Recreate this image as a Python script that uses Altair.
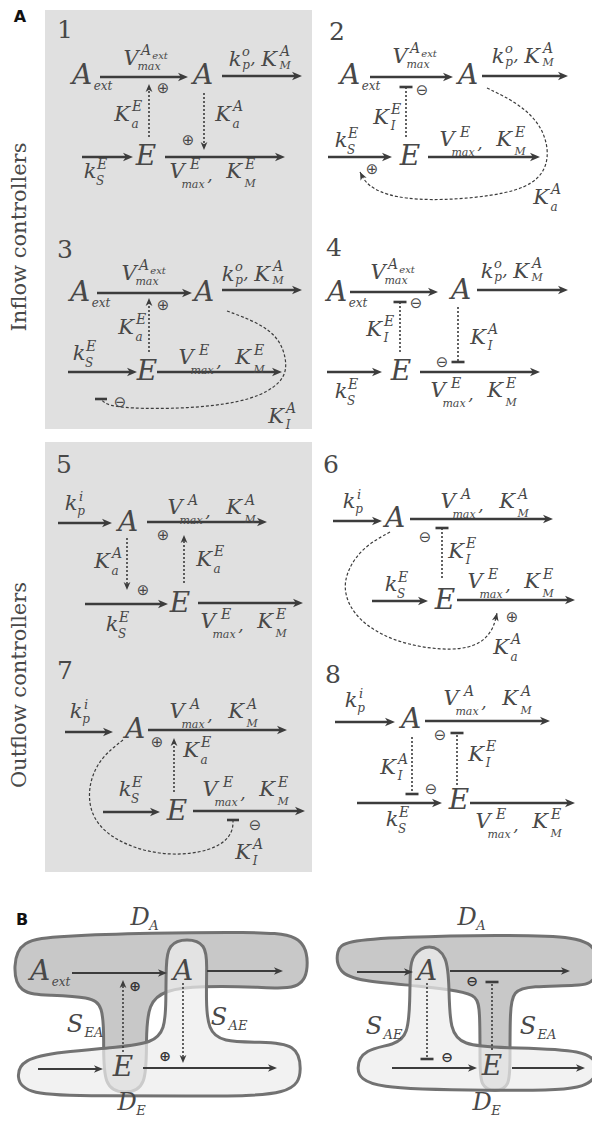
import math
import altair as alt
import pandas as pd

INK = "#3c3c3c"
TXT = "#484848"
SERIF = "DejaVu Serif"

# ---------------- panel backgrounds ----------------
BOX_X1 = [45, 45]
BOX_X2 = [312, 312]
BOX_Y1 = [10, 442]
BOX_Y2 = [429, 872]

# ---------------- solid reaction arrows (x1, y1, x2, y2) ----------------
SOLID_ARROWS = [
    (100, 77, 188, 77), (222, 76, 302, 76), (82, 157, 133, 157), (165, 157, 285, 157),      # 1
    (370, 77, 453, 77), (482, 76, 568, 76), (328, 157, 392, 157), (428, 157, 540, 157),     # 2
    (97, 293, 192, 293), (222, 290, 302, 290), (68, 372, 137, 372), (157, 372, 282, 372),   # 3
    (350, 292, 438, 292), (477, 290, 568, 290), (327, 372, 382, 372), (420, 372, 540, 372), # 4
    (58, 523, 112, 523), (147, 522, 267, 522), (85, 604, 168, 604), (198, 603, 303, 603),   # 5
    (333, 521, 382, 521), (410, 519, 553, 519), (372, 601, 428, 601), (457, 600, 575, 600), # 6
    (65, 732, 113, 732), (148, 730, 287, 730), (103, 812, 160, 812), (193, 811, 305, 811),  # 7
    (335, 722, 395, 722), (425, 721, 550, 721), (357, 803, 442, 803), (470, 803, 575, 803), # 8
]
B_ARROWS = [
    (72, 973, 167, 973), (207, 971, 283, 971), (38, 1069, 103, 1069), (143, 1068, 277, 1068),
    (357, 972, 413, 972), (450, 971, 570, 971), (392, 1068, 477, 1068), (512, 1068, 585, 1068),
]
# dashed activation arrows (head at end)
ACT_ARROWS = [
    (149, 137, 149, 84), (204, 93, 204, 150), (149, 352, 149, 298), (184, 583, 184, 535),
    (127, 538, 127, 590), (174, 792, 174, 738), (123, 1052, 123, 980), (183, 983, 183, 1063),
]
# dashed inhibition lines (bar at end)
INH_LINES = [
    (406, 137, 406, 87), (400, 352, 400, 302), (458, 307, 458, 362), (442, 578, 442, 528),
    (457, 785, 457, 733), (412, 737, 412, 794), (492, 1050, 492, 982), (427, 983, 427, 1059),
]
# dashed feedback curves
CURVE_P2 = [(487, 88), (520, 104), (543, 127), (550, 157), (540, 180), (510, 194),
            (443, 201), (393, 198), (367, 186), (360, 172)]
CURVE_P6 = [(390, 532), (363, 547), (347, 570), (343, 593), (357, 620), (393, 642),
            (443, 651), (477, 647), (493, 631), (497, 613)]
CURVE_P3 = [(227, 311), (257, 322), (280, 338), (288, 365), (282, 383), (253, 400),
            (200, 408), (140, 409), (107, 406), (101, 399)]
CURVE_P7 = [(123, 740), (100, 758), (88, 785), (90, 815), (110, 838), (150, 854),
            (193, 855), (223, 845), (233, 831), (233, 820)]
CURVES_ACT = {"c2": CURVE_P2, "c6": CURVE_P6}
CURVES_INH = {"c3": CURVE_P3, "c7": CURVE_P7}

# regulation signs
PLUS = [(163, 88), (188, 140), (372, 169), (163, 305), (163, 535), (143, 590), (512, 617), (157, 742)]
MINUS = [(422, 90), (120, 402), (416, 303), (442, 362), (425, 537), (255, 825), (440, 735), (431, 789)]
PLUS_B = [(135, 987), (165, 1057)]
MINUS_B = [(472, 982), (447, 1058)]

# panel numbers
NUM_TEXT = ["1", "2", "3", "4", "5", "6", "7", "8"]
NUM_X = [65, 337, 65, 334, 64, 331, 65, 333]
NUM_Y = [30, 32, 250, 248, 465, 465, 671, 675]

# side labels
SIDE_TEXT = ["Inflow controllers", "Outflow controllers"]
SIDE_X = [20, 20]
SIDE_Y = [237, 685]

# panel letters
LETTER_TEXT = ["A", "B"]
LETTER_X = [20, 22]
LETTER_Y = [17, 920]

# math terms (kind, x, y) -- x, y = centre of the main glyph
TERMS = [
    # 1
    ("Aext", 82, 76), ("VAext", 131, 59), ("A", 203, 76), ("kpoKMA", 235, 60), ("KaE", 122, 115),
    ("KaA", 223, 115), ("E", 146, 157), ("kSE", 90, 172), ("VEKME", 177, 172),
    # 2
    ("Aext", 350, 76), ("VAext", 400, 57), ("A", 468, 76), ("kpoKMA", 498, 57), ("KIE", 381, 118),
    ("kSE", 341, 141), ("E", 410, 157), ("VEKME", 447, 140), ("KaA", 541, 198),
    # 3
    ("Aext", 80, 293), ("VAext", 129, 274), ("A", 204, 293), ("kpoKMA", 228, 275), ("KaE", 126, 328),
    ("kSE", 79, 354), ("E", 147, 372), ("VEKME", 186, 358), ("KIA", 276, 417),
    # 4
    ("Aext", 337, 293), ("VAext", 378, 273), ("A", 461, 291), ("kpoKMA", 487, 272), ("KIE", 374, 330),
    ("KIA", 478, 338), ("E", 401, 372), ("kSE", 341, 392), ("VEKME", 438, 391),
    # 5
    ("kpi", 71, 504), ("A", 128, 523), ("VAKMA", 175, 508), ("KaE", 204, 560), ("KaA", 102, 562),
    ("E", 180, 604), ("kSE", 112, 625), ("VEKME", 208, 622),
    # 6
    ("kpi", 349, 502), ("A", 395, 519), ("VAKMA", 448, 502), ("KIE", 456, 552), ("kSE", 391, 585),
    ("E", 445, 601), ("VEKME", 475, 582), ("KaA", 501, 648),
    # 7
    ("kpi", 76, 712), ("A", 135, 730), ("VAKMA", 177, 712), ("KaE", 191, 751), ("kSE", 125, 790),
    ("E", 177, 812), ("VEKME", 210, 790), ("KIA", 243, 853),
    # 8
    ("kpi", 351, 701), ("A", 411, 720), ("VAKMA", 451, 699), ("KIE", 476, 755), ("KIA", 388, 768),
    ("E", 459, 801), ("kSE", 392, 820), ("VEKME", 483, 822),
    # B
    ("Aext", 40, 972), ("A", 183, 972), ("E", 123, 1068), ("SEA", 75, 1025), ("SAE", 219, 1018),
    ("DA", 140, 918), ("DE", 127, 1103),
    ("A", 427, 972), ("E", 492, 1067), ("SAE", 374, 1027), ("SEA", 528, 1027),
    ("DA", 467, 918), ("DE", 482, 1103),
]

# glyph layout of each kind of term: (text, dx, dy, font size)
GLYPHS = {
    "A": [("A", 0, 0, 28)],
    "E": [("E", 0, 0, 28)],
    "Aext": [("A", 0, 0, 28), ("ext", 21, 10, 12)],
    "VAext": [("V", 0, 0, 21), ("A", 15, -8, 14), ("ext", 29, -3, 10), ("max", 18, 8, 11)],
    "kpoKMA": [("k", 0, 0, 21), ("o", 11, -8, 13), ("p", 11, 5, 12), (",", 18, -1, 17),
               ("K", 34, 0, 21), ("A", 50, -8, 14), ("M", 50, 6, 11)],
    "VEKME": [("V", 0, 0, 21), ("E", 18, -7, 14), ("max", 16, 13, 11), (",", 33, 4, 17),
              ("K", 57, 0, 21), ("E", 73, -7, 14), ("M", 73, 12, 11)],
    "VAKMA": [("V", 0, 0, 21), ("A", 18, -7, 14), ("max", 16, 13, 11), (",", 33, 4, 17),
              ("K", 59, 0, 21), ("A", 75, -7, 14), ("M", 75, 12, 11)],
    "KaE": [("K", 0, 0, 21), ("E", 15, -8, 14), ("a", 13, 9, 12)],
    "KaA": [("K", 0, 0, 21), ("A", 15, -8, 14), ("a", 13, 9, 12)],
    "KIE": [("K", 0, 0, 21), ("E", 15, -8, 14), ("I", 12, 8, 12)],
    "KIA": [("K", 0, 0, 21), ("A", 15, -8, 14), ("I", 12, 8, 12)],
    "kSE": [("k", 0, 0, 21), ("E", 12, -7, 14), ("S", 10, 9, 12)],
    "kpi": [("k", 0, 0, 21), ("i", 10, -7, 13), ("p", 10, 7, 12)],
    "DA": [("D", 0, 0, 24), ("A", 14, 8, 13)],
    "DE": [("D", 0, 0, 24), ("E", 14, 8, 13)],
    "SEA": [("S", 0, 0, 24), ("EA", 19, 8, 13)],
    "SAE": [("S", 0, 0, 24), ("AE", 19, 8, 13)],
}

# B-part shaded domains (outline control points)
BLOB_DA_LEFT = [(20, 940), (60, 936), (150, 933), (250, 932), (303, 934), (309, 962), (304, 990),
                (260, 987), (200, 986), (165, 990), (148, 1003), (146, 1040), (147, 1088),
                (125, 1094), (103, 1088), (104, 1040), (103, 1005), (90, 997), (50, 995),
                (18, 994), (13, 966)]
BLOB_DE_LEFT = [(22, 1059), (60, 1052), (120, 1047), (152, 1043), (165, 1030), (166, 1000),
                (166, 965), (168, 944), (187, 938), (206, 944), (207, 965), (206, 1000),
                (208, 1030), (222, 1042), (260, 1042), (297, 1044), (302, 1069), (296, 1096),
                (200, 1096), (100, 1096), (25, 1095), (16, 1077)]
BLOB_DA_RIGHT = [(345, 941), (400, 937), (500, 935), (580, 936), (599, 950), (597, 982),
                 (580, 986), (530, 986), (513, 991), (510, 1010), (510, 1060), (510, 1087),
                 (495, 1092), (480, 1087), (480, 1060), (480, 1010), (477, 996), (460, 991),
                 (420, 986), (360, 981), (338, 973), (336, 950)]
BLOB_DE_RIGHT = [(412, 955), (429, 943), (448, 955), (449, 990), (450, 1030), (462, 1045),
                 (500, 1048), (590, 1049), (599, 1068), (591, 1091), (500, 1090), (365, 1090),
                 (355, 1068), (364, 1049), (395, 1045), (408, 1035), (410, 1000), (410, 970)]

# ---------------- scales ----------------
XS = alt.Scale(domain=[8, 592], nice=False, zero=False)
YS = alt.Scale(domain=[8, 1117], nice=False, zero=False, reverse=True)


def X(f="x"):
    return alt.X(f + ":Q", scale=XS, axis=None)


def Y(f="y"):
    return alt.Y(f + ":Q", scale=YS, axis=None)


HEAD = "M0,0 L-1,-0.42 L-0.72,0 L-1,0.42 Z"


def angle_of(x1, y1, x2, y2):
    return math.degrees(math.atan2(y2 - y1, x2 - x1)) % 360


def shorten(x1, y1, x2, y2, d):
    L = math.hypot(x2 - x1, y2 - y1)
    return x2 - (x2 - x1) / L * d, y2 - (y2 - y1) / L * d


# ---------------- build tables ----------------
boxes = pd.DataFrame({"x": BOX_X1, "x2": BOX_X2, "y": BOX_Y1, "y2": BOX_Y2})

solid_rows, head_rows = [], []
for arrows, w, hs in [(SOLID_ARROWS, 2.3, 400), (B_ARROWS, 1.8, 330)]:
    for (x1, y1, x2, y2) in arrows:
        ex, ey = shorten(x1, y1, x2, y2, 5)
        solid_rows.append(dict(x=x1, y=y1, x2=ex, y2=ey, w=w))
        head_rows.append(dict(x=x2, y=y2, a=angle_of(x1, y1, x2, y2), s=hs))
solid = pd.DataFrame(solid_rows)

dash_rows, bar_rows = [], []
for (x1, y1, x2, y2) in ACT_ARROWS:
    ex, ey = shorten(x1, y1, x2, y2, 5)
    dash_rows.append(dict(x=x1, y=y1, x2=ex, y2=ey))
    head_rows.append(dict(x=x2, y=y2, a=angle_of(x1, y1, x2, y2), s=260))
for (x1, y1, x2, y2) in INH_LINES:
    dash_rows.append(dict(x=x1, y=y1, x2=x2, y2=y2))
    bar_rows.append(dict(x=x2 - 6.5, x2=x2 + 6.5, y=y2))
dashed = pd.DataFrame(dash_rows)

curve_rows = []
for cid, pts in list(CURVES_ACT.items()) + list(CURVES_INH.items()):
    for i, (x, y) in enumerate(pts):
        curve_rows.append(dict(c=cid, o=i, x=x, y=y))
for cid, pts in CURVES_ACT.items():
    (xa, ya), (xb, yb) = pts[-2], pts[-1]
    head_rows.append(dict(x=xb, y=yb, a=angle_of(xa, ya, xb, yb), s=260))
for cid, pts in CURVES_INH.items():
    xb, yb = pts[-1]
    bar_rows.append(dict(x=xb - 6, x2=xb + 6, y=yb))
curves = pd.DataFrame(curve_rows)
heads = pd.DataFrame(head_rows)
bars = pd.DataFrame(bar_rows)

math_rows = []
for kind, x, y in TERMS:
    for (t, dx, dy, s) in GLYPHS[kind]:
        math_rows.append(dict(t=t, x=x + dx, y=y + dy, s=s))
maths = pd.DataFrame(math_rows)

signs = pd.DataFrame([dict(t="\u2295", x=x, y=y) for x, y in PLUS] +
                     [dict(t="\u2296", x=x, y=y) for x, y in MINUS])
signs_b = pd.DataFrame([dict(t="\u2295", x=x, y=y) for x, y in PLUS_B] +
                       [dict(t="\u2296", x=x, y=y) for x, y in MINUS_B])
nums = pd.DataFrame({"t": NUM_TEXT, "x": NUM_X, "y": NUM_Y})
side = pd.DataFrame({"t": SIDE_TEXT, "x": SIDE_X, "y": SIDE_Y})
letters = pd.DataFrame({"t": LETTER_TEXT, "x": LETTER_X, "y": LETTER_Y})


def blob_df(named):
    rows = []
    for name, pts in named:
        for i, (x, y) in enumerate(pts):
            rows.append(dict(b=name, o=i, x=x, y=y))
    return pd.DataFrame(rows)


blob_a = blob_df([("la", BLOB_DA_LEFT), ("ra", BLOB_DA_RIGHT)])
blob_e = blob_df([("le", BLOB_DE_LEFT), ("re", BLOB_DE_RIGHT)])

# ---------------- layers ----------------
l_boxes = alt.Chart(boxes).mark_rect(color="#e0e0e0").encode(
    x=X(), x2="x2:Q", y=Y(), y2="y2:Q")

l_blob_a = alt.Chart(blob_a).mark_line(
    interpolate="basis-closed", fill="#c8c8c8", stroke="#727272", strokeWidth=3
).encode(x=X(), y=Y(), detail="b:N", order="o:Q")
l_blob_e = alt.Chart(blob_e).mark_line(
    interpolate="basis-closed", fill="#ededed", fillOpacity=0.72, stroke="#727272", strokeWidth=3
).encode(x=X(), y=Y(), detail="b:N", order="o:Q")

l_solid = alt.Chart(solid).mark_rule(color=INK).encode(
    x=X(), y=Y(), x2="x2:Q", y2="y2:Q", strokeWidth=alt.StrokeWidth("w:Q", scale=None))
l_dashed = alt.Chart(dashed).mark_rule(color=INK, strokeWidth=1.6, strokeDash=[2, 2]).encode(
    x=X(), y=Y(), x2="x2:Q", y2="y2:Q")
l_bars = alt.Chart(bars).mark_rule(color=INK, strokeWidth=2.6).encode(
    x=X(), x2="x2:Q", y=Y())
l_curves = alt.Chart(curves).mark_line(
    interpolate="basis", color=INK, strokeWidth=1.2, strokeDash=[3, 2]
).encode(x=X(), y=Y(), detail="c:N", order="o:Q")
l_heads = alt.Chart(heads).mark_point(
    shape=HEAD, filled=True, color=INK, opacity=1, strokeWidth=0
).encode(x=X(), y=Y(), angle=alt.Angle("a:Q", scale=None), size=alt.Size("s:Q", scale=None))

l_math = alt.Chart(maths).mark_text(
    font=SERIF, fontStyle="italic", color=TXT, align="center", baseline="middle"
).encode(x=X(), y=Y(), text="t:N", size=alt.Size("s:Q", scale=None))
l_signs = alt.Chart(signs).mark_text(
    font="DejaVu Sans", fontSize=15, color=TXT, align="center", baseline="middle"
).encode(x=X(), y=Y(), text="t:N")
l_signs_b = alt.Chart(signs_b).mark_text(
    font="DejaVu Sans", fontSize=14, fontWeight="bold", color="#333333", align="center", baseline="middle"
).encode(x=X(), y=Y(), text="t:N")
l_nums = alt.Chart(nums).mark_text(
    font=SERIF, fontSize=25, color=TXT, align="center", baseline="middle"
).encode(x=X(), y=Y(), text="t:N")
l_side = alt.Chart(side).mark_text(
    font=SERIF, fontSize=21, color=TXT, align="center", baseline="middle", angle=270
).encode(x=X(), y=Y(), text="t:N")
l_letters = alt.Chart(letters).mark_text(
    font="DejaVu Sans", fontSize=16, fontWeight="bold", color="#111111",
    align="center", baseline="middle"
).encode(x=X(), y=Y(), text="t:N")

chart = alt.layer(
    l_boxes, l_blob_a, l_blob_e, l_solid, l_dashed, l_bars, l_curves, l_heads,
    l_math, l_signs, l_signs_b, l_nums, l_side, l_letters
).properties(
    width=584, height=1109, padding=0, autosize=alt.AutoSizeParams(type="none"),
    background="white"
).configure_view(stroke=None)

chart.save("out.html", embed_options={"renderer": "svg", "actions": False})
